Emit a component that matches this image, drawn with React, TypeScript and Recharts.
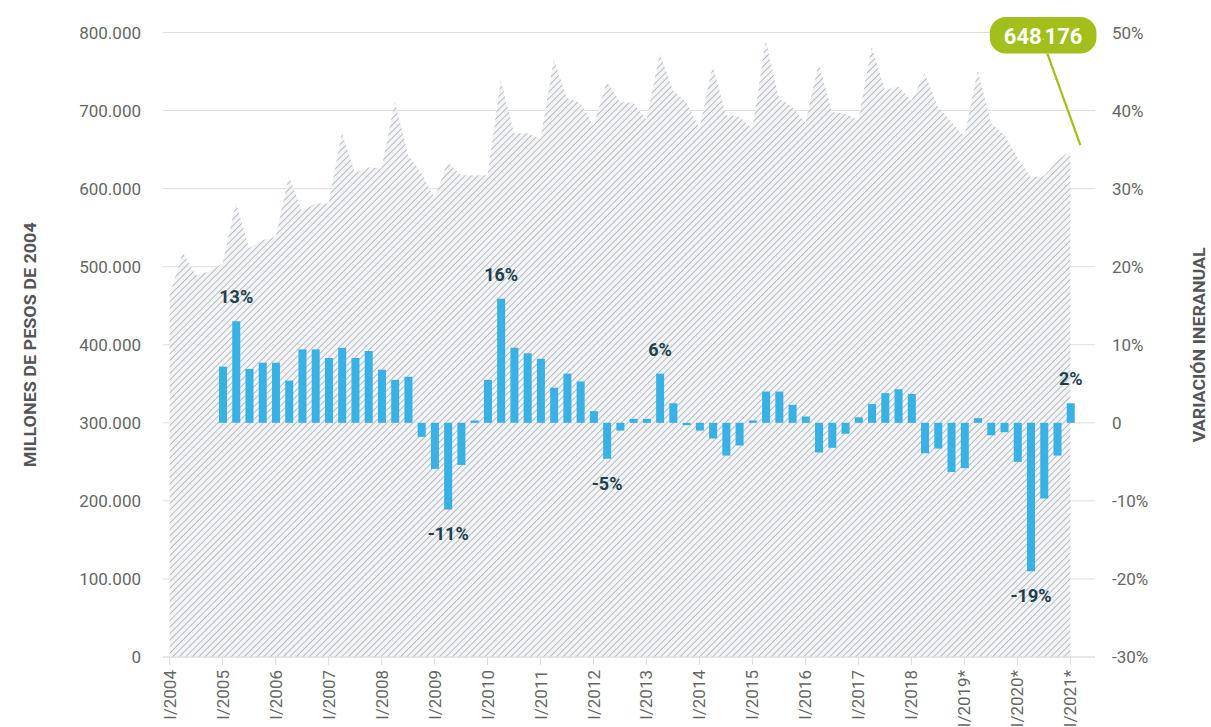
import React from 'react';
import {
  ComposedChart,
  Area,
  Bar,
  XAxis,
  YAxis,
  CartesianGrid,
  LabelList,
  ReferenceDot,
} from 'recharts';

// ---------- categories ----------
const quarterNumerals = ['I', 'II', 'III', 'IV'];
const years = [2004, 2005, 2006, 2007, 2008, 2009, 2010, 2011, 2012, 2013, 2014, 2015, 2016, 2017, 2018, 2019, 2020, 2021];
const provisionalYears = [2019, 2020, 2021];
const quartersInLastYear = 1;

const categories: string[] = years.flatMap((y, yi) =>
  quarterNumerals
    .slice(0, yi === years.length - 1 ? quartersInLastYear : 4)
    .map((q) => `${q}/${y}${provisionalYears.includes(y) ? '*' : ''}`)
);

// ---------- series: PIB (millones de pesos de 2004), I/2004 .. I/2021 ----------
const pibValues = [
  464000, 518000, 489000, 494000,
  504000, 582000, 524000, 534000,
  538000, 616000, 571000, 581000,
  581000, 672000, 620000, 627000,
  626000, 712000, 643000, 620000,
  588000, 634000, 617000, 617000,
  617000, 739000, 671000, 671000,
  664000, 765000, 716000, 710000,
  681000, 737000, 711000, 710000,
  688000, 773000, 726000, 711000,
  677000, 758000, 694000, 692000,
  677000, 790000, 716000, 705000,
  684000, 761000, 698000, 696000,
  688000, 782000, 726000, 731000,
  713000, 748000, 705000, 686000,
  666000, 752000, 684000, 669000,
  640000, 615000, 616000, 636000,
  648176,
];

// ---------- series: variación interanual (%), I/2005 .. I/2021 ----------
const variationStart = 'I/2005';
const variationValues = [
  7.2, 13.0, 6.9, 7.7,
  7.7, 5.4, 9.4, 9.4,
  8.3, 9.6, 8.3, 9.2,
  6.8, 5.5, 5.9, -1.8,
  -5.9, -11.1, -5.4, 0.3,
  5.5, 15.9, 9.6, 8.9,
  8.2, 4.5, 6.3, 5.3,
  1.5, -4.6, -1.0, 0.5,
  0.5, 6.3, 2.5, -0.3,
  -1.0, -2.0, -4.2, -2.9,
  0.3, 4.0, 4.0, 2.3,
  0.8, -3.8, -3.2, -1.4,
  0.7, 2.4, 3.8, 4.3,
  3.7, -3.9, -3.3, -6.3,
  -5.8, 0.6, -1.6, -1.2,
  -5.0, -19.0, -9.7, -4.2,
  2.5,
];

// highlighted bar labels
const barLabelQuarters = ['II/2005', 'II/2009', 'II/2010', 'II/2012', 'II/2013', 'II/2020*', 'I/2021*'];
const barLabelTexts = ['13%', '-11%', '16%', '-5%', '6%', '-19%', '2%'];

// ---------- ticks ----------
const leftTicks = [0, 100000, 200000, 300000, 400000, 500000, 600000, 700000, 800000];
const rightTicks = [-30, -20, -10, 0, 10, 20, 30, 40, 50];

const leftTitle = 'MILLONES DE PESOS DE 2004';
const rightTitle = 'VARIACIÓN INERANUAL';

// ---------- data table ----------
const varStartIdx = categories.indexOf(variationStart);
const data = categories.map((q, i) => {
  const li = barLabelQuarters.indexOf(q);
  return {
    q,
    pib: pibValues[i],
    varia: i >= varStartIdx ? variationValues[i - varStartIdx] : null,
    label: li >= 0 ? barLabelTexts[li] : undefined,
  };
});

const lastIdx = categories.length - 1;

const FONT = 'Roboto, sans-serif';
const fmtThousands = (v: number) => String(v).replace(/\B(?=(\d{3})+(?!\d))/g, '.');

const XTick = (props: any) => {
  const { x, y, payload } = props;
  return (
    <text
      x={x}
      y={y}
      transform={`rotate(-90 ${x} ${y})`}
      textAnchor="end"
      dominantBaseline="central"
      fill="#666"
      fontSize={17}
      fontFamily={FONT}
    >
      {payload.value}
    </text>
  );
};

const AxisTitle = (props: any) => {
  const { viewBox, text, dx, len } = props;
  const vb = viewBox || { x: 0, y: 32.5, width: 0, height: 624.5 };
  const cx = vb.x + dx;
  const cy = vb.y + vb.height / 2;
  return (
    <text
      x={cx}
      y={cy}
      transform={`rotate(-90 ${cx} ${cy})`}
      textAnchor="middle"
      dominantBaseline="central"
      fill="#555"
      fontSize={17}
      fontWeight={700}
      fontFamily={FONT}
      textLength={len}
      lengthAdjust="spacingAndGlyphs"
    >
      {text}
    </text>
  );
};

const renderBarLabel = (props: any) => {
  const { x, y, width, height, value } = props;
  if (!value) return null;
  const nx = Number(x);
  const ny = Number(y);
  const nh = Number(height);
  const nw = Number(width);
  const top = Math.min(ny, ny + nh);
  const bottom = Math.max(ny, ny + nh);
  const neg = String(value).startsWith('-');
  return (
    <text
      x={nx + nw / 2}
      y={neg ? bottom + 31 : top - 18}
      textAnchor="middle"
      fill="#1e3f4d"
      fontSize={18}
      fontWeight={700}
      fontFamily={FONT}
    >
      {value}
    </text>
  );
};

const Callout = (props: any) => {
  const { cx, cy } = props;
  const [a, b] = fmtThousands(pibValues[lastIdx]).split('.');
  const green = '#a2bf1b';
  const bx = cx - 80.6;
  const by = cy - 134;
  const bw = 106.7;
  const bh = 36.5;
  return (
    <g>
      <line x1={cx - 23} y1={by + bh} x2={cx + 10} y2={cy - 6} stroke={green} strokeWidth={2.2} />
      <rect x={bx} y={by} width={bw} height={bh} rx={16} ry={16} fill={green} />
      <text
        x={bx + bw / 2}
        y={by + bh / 2 + 1}
        textAnchor="middle"
        dominantBaseline="central"
        fill="#fff"
        fontSize={22}
        fontWeight={700}
        fontFamily={FONT}
      >
        {a}
        <tspan fill="#cfdd9a" fontSize={10}>.</tspan>
        {b}
      </text>
    </g>
  );
};

export default function App() {
  return (
    <div style={{ position: 'absolute', left: 0, top: 0, fontFamily: FONT }}>
      <ComposedChart
        width={1211}
        height={727}
        data={data}
        margin={{ top: 32.5, right: 0, bottom: 0, left: 0 }}
      >
        <defs>
          <pattern
            id="hatch"
            patternUnits="userSpaceOnUse"
            width={4.6}
            height={4.6}
            patternTransform="rotate(45)"
          >
            <rect width={4.6} height={4.6} fill="#f0f2f4" fillOpacity={0.85} />
            <line x1={2.3} y1={0} x2={2.3} y2={4.6} stroke="#b3b8be" strokeWidth={0.9} />
          </pattern>
        </defs>
        <CartesianGrid yAxisId="left" vertical={false} stroke="#dedede" />
        <XAxis
          dataKey="q"
          interval={3}
          height={70}
          tickSize={8}
          tickMargin={5}
          padding={{ left: 0, right: 18 }}
          axisLine={{ stroke: '#dedede' }}
          tickLine={{ stroke: '#dedede' }}
          tick={(p: any) => <XTick {...p} />}
        />
        <YAxis
          yAxisId="left"
          orientation="left"
          width={163}
          domain={[0, 800000]}
          ticks={leftTicks}
          interval={0}
          tickSize={0}
          tickMargin={22}
          axisLine={false}
          tickLine={false}
          tickFormatter={(v: number) => (v === 0 ? '0' : fmtThousands(v))}
          tick={{ fill: '#666', fontSize: 17, fontFamily: FONT }}
          label={<AxisTitle text={leftTitle} dx={30} len={245} />}
        />
        <YAxis
          yAxisId="right"
          orientation="right"
          width={116}
          domain={[-30, 50]}
          ticks={rightTicks}
          interval={0}
          tickSize={0}
          tickMargin={17}
          axisLine={false}
          tickLine={false}
          tickFormatter={(v: number) => (v === 0 ? '0' : `${v}%`)}
          tick={{ fill: '#666', fontSize: 17, fontFamily: FONT }}
          label={<AxisTitle text={rightTitle} dx={104} len={195} />}
        />
        <Area
          yAxisId="left"
          dataKey="pib"
          type="linear"
          stroke="none"
          fill="url(#hatch)"
          fillOpacity={1}
          dot={false}
          activeDot={false}
          isAnimationActive={false}
        />
        <Bar yAxisId="right" dataKey="varia" fill="#38b1e4" barSize={8} isAnimationActive={false}>
          <LabelList dataKey="label" content={renderBarLabel} />
        </Bar>
        <ReferenceDot
          yAxisId="left"
          x={categories[lastIdx]}
          y={pibValues[lastIdx]}
          ifOverflow="visible"
          shape={(p: any) => <Callout {...p} />}
        />
      </ComposedChart>
    </div>
  );
}
